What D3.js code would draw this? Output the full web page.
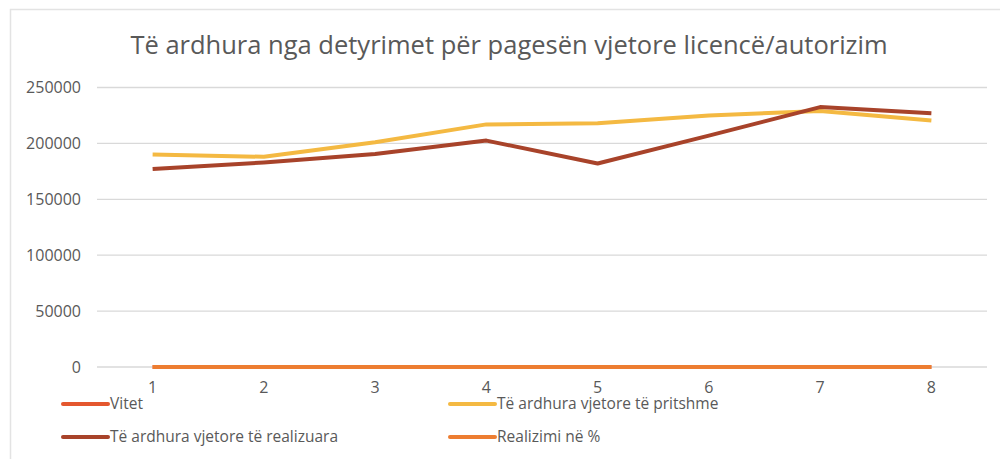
<html>
  <head>
    <meta charset="utf-8">
    <title>Të ardhura</title>
    <script src="https://cdn.jsdelivr.net/npm/d3@7"></script>
    <style>
body { margin: 0; background: #fff; }
text { font-family: "Open Sans", Calibri, sans-serif; fill: #595959; }
.grid line { stroke: #d9d9d9; stroke-width: 1.3px; }
.series { fill: none; stroke-width: 4px; stroke-linejoin: round; }
    </style>
  </head>
  <body>
    <script>

var categories = [1, 2, 3, 4, 5, 6, 7, 8];
var vitet = [1, 2, 3, 4, 5, 6, 7, 8];
var pritshme = [190000, 188000, 201000, 217000, 218000, 225000, 229000, 220500];
var realizuara = [177000, 183000, 190500, 202500, 182000, 207000, 232500, 227000];
var realizimi = [93, 97, 95, 93, 83, 92, 101, 103];
var yTicks = [0, 50000, 100000, 150000, 200000, 250000];

var series = [
  {name: "Vitet", values: vitet, color: "#e4572e"},
  {name: "Të ardhura vjetore të pritshme", values: pritshme, color: "#f4b942"},
  {name: "Të ardhura vjetore të realizuara", values: realizuara, color: "#a8432a"},
  {name: "Realizimi në %", values: realizimi, color: "#ed7d31"}
];

var width = 1000, height = 459;

var svg = d3.select("body").append("svg")
    .attr("width", width)
    .attr("height", height);

// chart frame
svg.append("path")
    .attr("d", "M10.5," + height + "V9.5H" + width)
    .attr("fill", "none")
    .attr("stroke", "#e3e3e3")
    .attr("stroke-width", 1.5);

svg.append("text")
    .attr("x", 509)
    .attr("y", 54)
    .attr("text-anchor", "middle")
    .style("font-size", "25.5px")
    .text("Të ardhura nga detyrimet për pagesën vjetore licencë/autorizim");

var x = d3.scaleBand().domain(categories).range([97, 987]);
var y = d3.scaleLinear().domain([0, 250000]).range([367, 87.5]);

var grid = svg.append("g").attr("class", "grid");
grid.selectAll("line").data(yTicks).enter().append("line")
    .attr("x1", 97).attr("x2", 987)
    .attr("y1", function(d) { return y(d); })
    .attr("y2", function(d) { return y(d); });

var yAxis = svg.append("g")
    .attr("transform", "translate(81,0)")
    .call(d3.axisLeft(y).tickValues(yTicks).tickSize(0).tickPadding(0).tickFormat(d3.format("d")));
yAxis.select(".domain").remove();
yAxis.selectAll("text").style("font-size", "16px").attr("fill", "#595959");

var xAxis = svg.append("g")
    .attr("transform", "translate(0,379)")
    .call(d3.axisBottom(x).tickSize(0).tickPadding(0));
xAxis.select(".domain").remove();
xAxis.selectAll("text").style("font-size", "16px").attr("fill", "#595959").attr("dy", "0.9em");

var line = d3.line()
    .x(function(d, i) { return x(categories[i]) + x.bandwidth() / 2; })
    .y(function(d) { return y(d); });

svg.selectAll(".series").data(series).enter().append("path")
    .attr("class", "series")
    .attr("stroke", function(d) { return d.color; })
    .attr("d", function(d) { return line(d.values); });

// legend
var legendPos = [[63, 404], [450, 404], [63, 437], [450, 437]];
var legend = svg.selectAll(".legend").data(series).enter().append("g")
    .attr("class", "legend")
    .attr("transform", function(d, i) { return "translate(" + legendPos[i][0] + "," + legendPos[i][1] + ")"; });
legend.append("line")
    .attr("x1", 0).attr("x2", 45)
    .attr("stroke", function(d) { return d.color; })
    .attr("stroke-width", 4)
    .attr("stroke-linecap", "round");
legend.append("text")
    .attr("x", 47)
    .attr("dy", "0.35em")
    .style("font-size", "15.5px")
    .text(function(d) { return d.name; });

</script>
  </body>
</html>
